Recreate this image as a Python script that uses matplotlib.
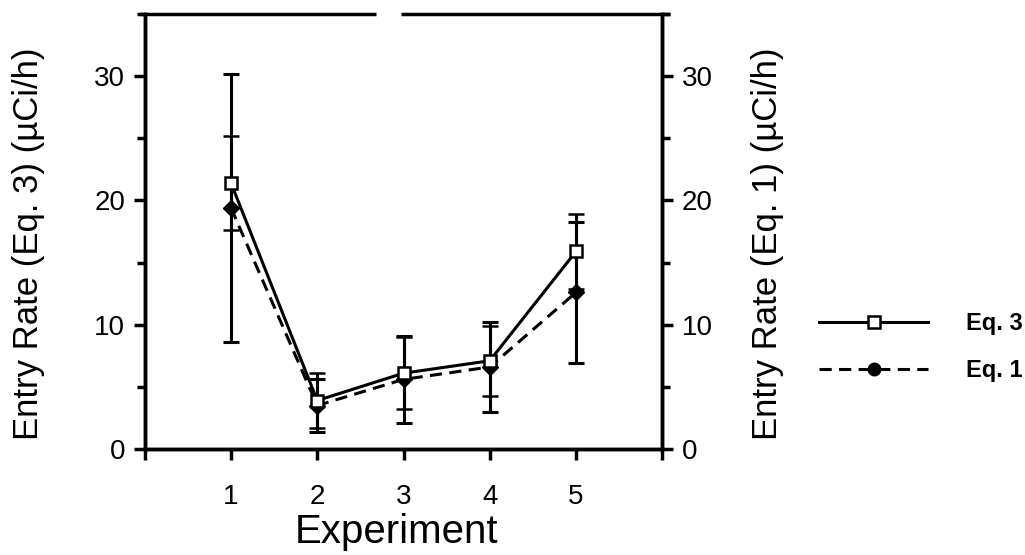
import matplotlib
matplotlib.use("Agg")
import matplotlib.pyplot as plt
from matplotlib.ticker import MultipleLocator, FixedLocator
from matplotlib.lines import Line2D

# ---- data ----
experiments = [1, 2, 3, 4, 5]
eq3_rate = [21.4, 3.9, 6.1, 7.1, 15.9]
eq3_err = [3.8, 2.2, 2.9, 2.8, 3.0]
eq1_rate = [19.4, 3.5, 5.6, 6.6, 12.6]
eq1_err = [10.8, 2.1, 3.5, 3.6, 5.7]
x_tick_labels = ["", "1", "2", "3", "4", "5", ""]
y_ticks = [0, 10, 20, 30]
series_labels = ["Eq. 3", "Eq. 1"]

plt.rcParams['font.family'] = ['Liberation Sans', 'DejaVu Sans']

fig = plt.figure(figsize=(10.25, 5.55), dpi=100)
px_l, px_r, px_b, px_t = 144.75, 662.25, 449, 14
L, R, B, T = px_l / 1025, px_r / 1025, 1 - px_b / 555, 1 - px_t / 555
ax = fig.add_axes([L, B, R - L, T - B])
W, H = px_r - px_l, px_b - px_t

lw_ax = 2.5
lw_data = 2.2
dash = (0, (4.0, 2.4))
ax.set_xlim(0, 6)
ax.set_ylim(0, 35)

ax.errorbar(experiments, eq1_rate, yerr=eq1_err, color='black', lw=lw_data,
            ls=dash, marker='D', ms=8, mfc='black', mec='black',
            capsize=5.5, capthick=2.2, elinewidth=2.2)
ax.errorbar(experiments, eq3_rate, yerr=eq3_err, color='black', lw=lw_data,
            ls='-', marker='s', ms=9, mfc='white', mec='black', mew=1.8,
            capsize=5.5, capthick=2.2, elinewidth=2.2)

for s in ['left', 'right', 'bottom']:
    ax.spines[s].set_linewidth(lw_ax)
ax.spines['top'].set_visible(False)
# top border with a gap, as in the scanned original
ax.plot([-0.01, 0.447], [1, 1], transform=ax.transAxes, color='black', lw=lw_ax,
        clip_on=False, solid_capstyle='butt')
ax.plot([0.495, 1.0155], [1, 1], transform=ax.transAxes, color='black', lw=lw_ax,
        clip_on=False, solid_capstyle='butt')

ax.xaxis.set_major_locator(FixedLocator(range(7)))
ax.set_xticklabels(x_tick_labels)
ax.yaxis.set_major_locator(FixedLocator(y_ticks))
ax.yaxis.set_minor_locator(MultipleLocator(5))
ax.tick_params(axis='both', which='major', direction='out', length=8, width=lw_ax,
               labelsize=20, pad=6)
ax.tick_params(axis='y', which='minor', direction='out', length=6, width=lw_ax)
ax.tick_params(axis='x', pad=17)

ax.set_xlabel("Experiment", fontsize=29, va='center')
ax.xaxis.set_label_coords((397 - px_l) / W, (px_b - 532) / H)
ax.set_ylabel("Entry Rate (Eq. 3) (µCi/h)", fontsize=25, va='center', ha='center')
ax.yaxis.set_label_coords((29 - px_l) / W, (px_b - 244) / H)

ax2 = ax.twinx()
ax2.set_ylim(0, 35)
ax2.spines['top'].set_visible(False)
for s in ['left', 'right', 'bottom']:
    ax2.spines[s].set_linewidth(lw_ax)
ax2.yaxis.set_major_locator(FixedLocator(y_ticks))
ax2.yaxis.set_minor_locator(MultipleLocator(5))
ax2.tick_params(axis='y', which='major', direction='out', length=8, width=lw_ax,
                labelsize=20, pad=6)
ax2.tick_params(axis='y', which='minor', direction='out', length=6, width=lw_ax)
ax2.set_ylabel("Entry Rate (Eq. 1) (µCi/h)", fontsize=25, rotation=90,
               va='center', ha='center')
ax2.yaxis.set_label_coords((768 - px_l) / W, (px_b - 244) / H)

handles = [
    Line2D([], [], color='black', lw=lw_data, ls='-', marker='s', ms=8,
           mfc='white', mec='black', mew=1.8),
    Line2D([], [], color='black', lw=lw_data, ls=dash, marker='o', ms=9,
           mfc='black', mec='black'),
]
fig.legend(handles, series_labels,
           loc='center left', bbox_to_anchor=(798 / 1025, 1 - 347 / 555),
           frameon=False, handlelength=4.6, handletextpad=1.6,
           labelspacing=1.0, numpoints=1,
           prop={'size': 17, 'weight': 'bold'})

fig.savefig("out.png", dpi=100)
